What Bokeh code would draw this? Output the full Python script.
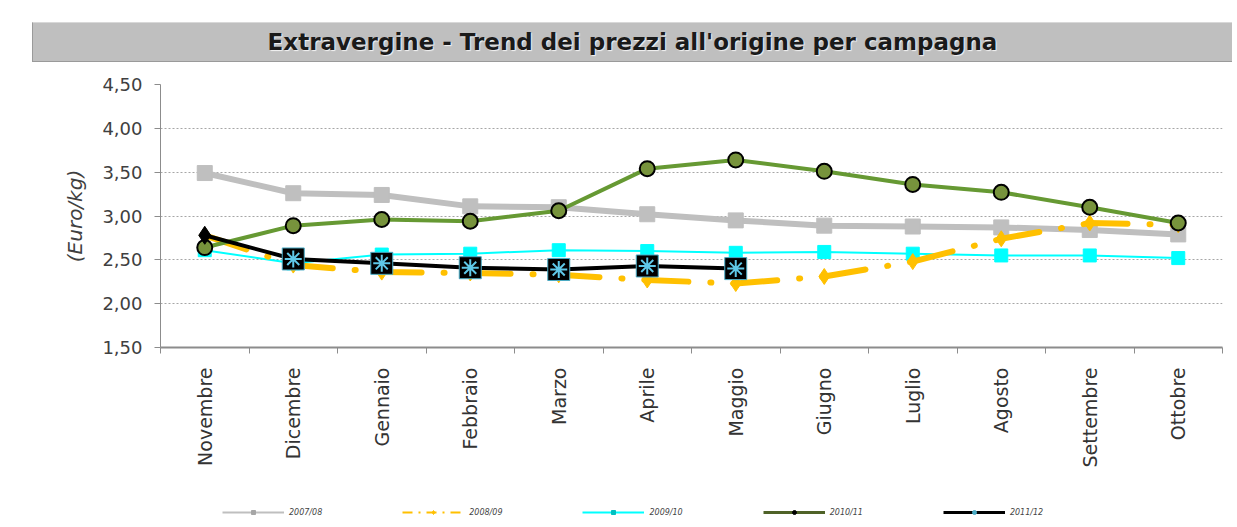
import math
from bokeh.plotting import figure
from bokeh.models import FixedTicker, Legend, LegendItem, Div
from bokeh.layouts import column
from bokeh.embed import file_html
from bokeh.resources import INLINE

months = ["Novembre", "Dicembre", "Gennaio", "Febbraio", "Marzo", "Aprile",
          "Maggio", "Giugno", "Luglio", "Agosto", "Settembre", "Ottobre"]
series_names = ["2007/08", "2008/09", "2009/10", "2010/11", "2011/12"]
p0708 = [3.49, 3.26, 3.24, 3.11, 3.10, 3.02, 2.95, 2.89, 2.88, 2.87, 2.84, 2.79]
p0809 = [2.78, 2.44, 2.36, 2.35, 2.33, 2.27, 2.23, 2.31, 2.48, 2.74, 2.92, 2.90]
p0910 = [2.61, 2.46, 2.56, 2.57, 2.61, 2.60, 2.58, 2.59, 2.57, 2.55, 2.55, 2.52]
p1011 = [2.64, 2.89, 2.96, 2.94, 3.06, 3.54, 3.64, 3.51, 3.36, 3.27, 3.10, 2.92]
p1112 = [2.78, 2.51, 2.46, 2.41, 2.39, 2.43, 2.40]
y_ticks = [1.5, 2.0, 2.5, 3.0, 3.5, 4.0, 4.5]
y_tick_labels = ["1,50", "2,00", "2,50", "3,00", "3,50", "4,00", "4,50"]
title_text = "Extravergine - Trend dei prezzi all'origine per campagna"
y_label = "(Euro/kg)"

xs = list(range(len(months)))

title_div = Div(
    text=title_text, width=1200, height=40, margin=(22, 0, 0, 32),
    styles={"background-color": "#bfbfbf", "border-top": "1px solid #d8d8d8",
            "border-bottom": "1px solid #9a9a9a", "border-left": "1px solid #9a9a9a",
            "box-sizing": "border-box", "text-align": "center",
            "font-family": "DejaVu Sans", "font-weight": "bold", "font-size": "23px",
            "line-height": "38px", "color": "#1a1a1a",
            "text-shadow": "1px 1px 1px #f4f4f4"})

p = figure(frame_width=1062, frame_height=263,
           min_border_left=160, min_border_right=7,
           min_border_top=22, min_border_bottom=153,
           x_range=(-0.5, len(months) - 0.5), y_range=(1.5, 4.5),
           output_backend="svg", toolbar_location=None, margin=(0, 0, 0, 0))
p.outline_line_color = None
p.background_fill_color = "white"
p.border_fill_color = "white"

# y axis
p.yaxis.ticker = FixedTicker(ticks=y_ticks)
p.yaxis.major_label_overrides = {t: l for t, l in zip(y_ticks, y_tick_labels)}
p.yaxis.minor_tick_line_color = None
p.yaxis.major_tick_out = 6
p.yaxis.major_tick_in = 0
p.yaxis.axis_line_color = "#8c8c8c"
p.yaxis.major_tick_line_color = "#8c8c8c"
p.yaxis.major_label_text_font = "DejaVu Sans"
p.yaxis.major_label_text_font_size = "18px"
p.yaxis.major_label_text_color = "#404040"
p.yaxis.major_label_standoff = 12
p.yaxis.axis_label = y_label
p.yaxis.axis_label_text_font = "DejaVu Sans"
p.yaxis.axis_label_text_font_size = "20px"
p.yaxis.axis_label_text_font_style = "italic"
p.yaxis.axis_label_text_color = "#404040"
p.yaxis.axis_label_standoff = 12

# x axis
p.xaxis.ticker = FixedTicker(ticks=xs, minor_ticks=[i - 0.5 for i in range(len(months) + 1)])
p.xaxis.major_label_overrides = {i: m for i, m in enumerate(months)}
p.xaxis.major_tick_line_color = None
p.xaxis.minor_tick_line_color = "#8c8c8c"
p.xaxis.minor_tick_out = 6
p.xaxis.minor_tick_in = 0
p.xaxis.axis_line_color = "#8c8c8c"
p.xaxis.axis_line_width = 2
p.xaxis.major_label_orientation = math.pi / 2
p.xaxis.major_label_text_font = "DejaVu Sans"
p.xaxis.major_label_text_font_size = "19px"
p.xaxis.major_label_text_color = "#333333"
p.xaxis.major_label_standoff = 14

p.xgrid.grid_line_color = None
p.ygrid.grid_line_color = "#a6a6a6"
p.ygrid.grid_line_dash = "2 2"
p.ygrid.grid_line_width = 1
p.ygrid.ticker = FixedTicker(ticks=y_ticks)

# series
p.line(xs, p0708, line_color="#bfbfbf", line_width=6)
p.scatter(xs, p0708, marker="square", size=15, fill_color="#bfbfbf", line_color="#bfbfbf")

p.line(xs, p0910, line_color="#00ffff", line_width=2)
p.scatter(xs, p0910, marker="square", size=13, fill_color="#00ffff", line_color="#00ffff")

p.line(xs, p0809, line_color="#ffc000", line_width=6, line_dash="44 22 1 22", line_cap="round")
p.scatter(xs, p0809, marker="diamond", size=16, fill_color="#ffc000", line_color="#ffc000")

p.line(xs, p1011, line_color="#669933", line_width=4)
p.scatter(xs, p1011, marker="circle", size=15, fill_color="#77933c", line_color="black", line_width=2)

xb = xs[:len(p1112)]
p.line(xb, p1112, line_color="black", line_width=4)
p.scatter(xb[:1], p1112[:1], marker="diamond", size=18, fill_color="black", line_color="black")
p.scatter(xb[1:], p1112[1:], marker="square", size=22, fill_color="black", line_color="#4bacc6", line_width=1)
p.scatter(xb[1:], p1112[1:], marker="asterisk", size=17, line_color="#5fc8e8", line_width=2)

# legend strip: a small figure holding only the legend (its frame aligns with the chart's)
lf = figure(width=1237, height=22, min_border=0, output_backend="svg",
            toolbar_location=None, x_axis_location=None, y_axis_location=None,
            x_range=(0, 1), y_range=(0, 1), margin=(0, 0, 0, 0))
lf.outline_line_color = None
lf.xgrid.grid_line_color = None
lf.ygrid.grid_line_color = None

nan = [float("nan")]
lg_gray = lf.scatter(nan, nan, marker="square", size=3, fill_color="#a6a6a6", line_color="#a6a6a6")
lg_yel = lf.scatter(nan, nan, marker="diamond", size=4, fill_color="#ffc000", line_color="#ffc000")
lg_cyan = lf.scatter(nan, nan, marker="square", size=3, fill_color="#00c0c0", line_color="#00c0c0")
lg_grn = lf.scatter(nan, nan, marker="circle", size=3, fill_color="black", line_color="black")
lg_blk = lf.scatter(nan, nan, marker="circle", size=3, fill_color="#4bacc6", line_color="#4bacc6")
lgl_gray = lf.line(nan, nan, line_color="#bfbfbf", line_width=2)
lgl_yel = lf.line(nan, nan, line_color="#ffc000", line_width=2, line_dash="10 6 2 6")
lgl_cyan = lf.line(nan, nan, line_color="#00ffff", line_width=2)
lgl_grn = lf.line(nan, nan, line_color="#4f6228", line_width=3)
lgl_blk = lf.line(nan, nan, line_color="black", line_width=3)

legend = Legend(items=[
    LegendItem(label=series_names[0], renderers=[lgl_gray, lg_gray]),
    LegendItem(label=series_names[1], renderers=[lgl_yel, lg_yel]),
    LegendItem(label=series_names[2], renderers=[lgl_cyan, lg_cyan]),
    LegendItem(label=series_names[3], renderers=[lgl_grn, lg_grn]),
    LegendItem(label=series_names[4], renderers=[lgl_blk, lg_blk]),
], orientation="horizontal", location=(62, 5),
    glyph_width=62, glyph_height=10, label_height=10,
    label_text_font="DejaVu Sans", label_text_font_size="8px",
    label_text_font_style="italic", label_standoff=5, spacing=80,
    padding=0, margin=0, border_line_color=None, background_fill_alpha=0)
lf.add_layout(legend, "center")

layout = column(title_div, p, lf, spacing=0)
open("out.html", "w").write(file_html(layout, INLINE))
